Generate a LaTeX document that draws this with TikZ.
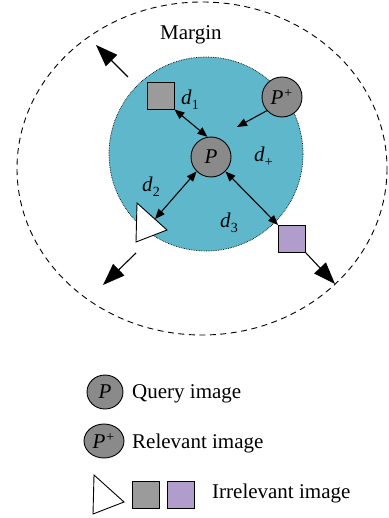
\documentclass[tikz,border=0pt]{standalone}
\usepackage{fontspec}
\setmainfont{Liberation Serif}
\usetikzlibrary{arrows.meta,shapes.geometric}
\definecolor{zoneblue}{HTML}{5EB7CB}
\definecolor{ballgray}{HTML}{8A8A8A}
\definecolor{boxgray}{HTML}{9B9B9B}
\definecolor{boxpurple}{HTML}{B19DCB}
\tikzset{
  ball/.style={ellipse,draw=black,line width=0.9pt,fill=ballgray,inner sep=0pt,
    minimum width=40pt,minimum height=40pt,font=\fontsize{21}{25}\selectfont\itshape},
  sqbox/.style={rectangle,draw=black,line width=0.9pt,inner sep=0pt,minimum size=27pt},
  tri/.style={draw=black,line width=0.9pt,fill=white,line join=miter},
  lbl/.style={inner sep=0pt,font=\fontsize{21}{25}\selectfont},
  dist/.style={line width=1.1pt,{Triangle[length=10pt,width=8pt]}-{Triangle[length=10pt,width=8pt]}},
  pull/.style={line width=1.1pt,-{Triangle[length=10pt,width=8pt]}},
  push/.style={line width=1.1pt,-{Triangle[length=22pt,width=16pt]}}
}
\newcommand{\dlabel}[1]{\textit{d}\raisebox{-0.45ex}{\fontsize{14}{16}\selectfont #1}}
\begin{document}
\begin{tikzpicture}[x=1pt,y=-1pt]
\useasboundingbox (0,0) rectangle (388,518);

% margin boundary
\draw[dashed,line width=0.9pt,dash pattern=on 6pt off 4.5pt] (202,168.5) ellipse [x radius=185, y radius=166.5];
\node[lbl,anchor=base west] (margin) at (160,40) {Margin};

% neighbourhood of the query
\node[circle,fill=zoneblue,draw=black,densely dotted,line width=0.7pt,minimum size=194pt,inner sep=0pt] (zone) at (206,154) {};

% samples
\node[ball] (P) at (211,157) {P};
\node[ball] (Pp) at (282,97) {P\textsuperscript{\fontsize{14}{16}\selectfont +}};
\node[sqbox,fill=boxgray] (sq1) at (160.5,95.5) {};
\node[sqbox,fill=boxpurple] (sq2) at (292,239) {};
\coordinate (t1) at (137,203);
\coordinate (t2) at (136,242);
\coordinate (t3) at (167,230);
\draw[tri] (t1) -- (t2) -- (t3) -- cycle;
\coordinate (tedge) at (155,219);

% distances
\draw[dist] (sq1.south east) -- (P.100);
\draw[dist] (P.225) -- (tedge);
\draw[dist] (P.315) -- (sq2.north west);
\coordinate (pin) at (237,127);
\draw[pull] (Pp.222) -- (pin);

% pushing irrelevant samples beyond the margin
\coordinate (o1s) at (128,77);
\coordinate (o1e) at (96,45);
\draw[push] (o1s) -- (o1e);
\coordinate (o2s) at (136,253);
\coordinate (o2e) at (103,285);
\draw[push] (o2s) -- (o2e);
\coordinate (o3e) at (335,284);
\draw[push] (sq2.south east) -- (o3e);

% distance labels
\node[lbl,anchor=base west] (d1) at (181,105) {\dlabel{1}};
\node[lbl,anchor=base west] (d2) at (142,192) {\dlabel{2}};
\node[lbl,anchor=base west] (d3) at (220,228) {\dlabel{3}};
\node[lbl,anchor=base west] (dp) at (254,162) {\dlabel{+}};

% legend
\node[ball,minimum width=36pt,minimum height=34pt] (lq) at (105,392) {P};
\node[lbl,anchor=base west] (lqt) at (132,398) {Query image};
\node[ball,minimum width=40pt,minimum height=34pt] (lr) at (104,441) {P\textsuperscript{\fontsize{14}{16}\selectfont +}};
\node[lbl,anchor=base west] (lrt) at (132,448) {Relevant image};
\coordinate (l1) at (94,475);
\coordinate (l2) at (93,514);
\coordinate (l3) at (124,502);
\draw[tri] (l1) -- (l2) -- (l3) -- cycle;
\node[sqbox,fill=boxgray] (lg) at (146,495) {};
\node[sqbox,fill=boxpurple] (lp) at (181,495) {};
\node[lbl,anchor=base west] (lit) at (212,498) {Irrelevant image};
\end{tikzpicture}
\end{document}
